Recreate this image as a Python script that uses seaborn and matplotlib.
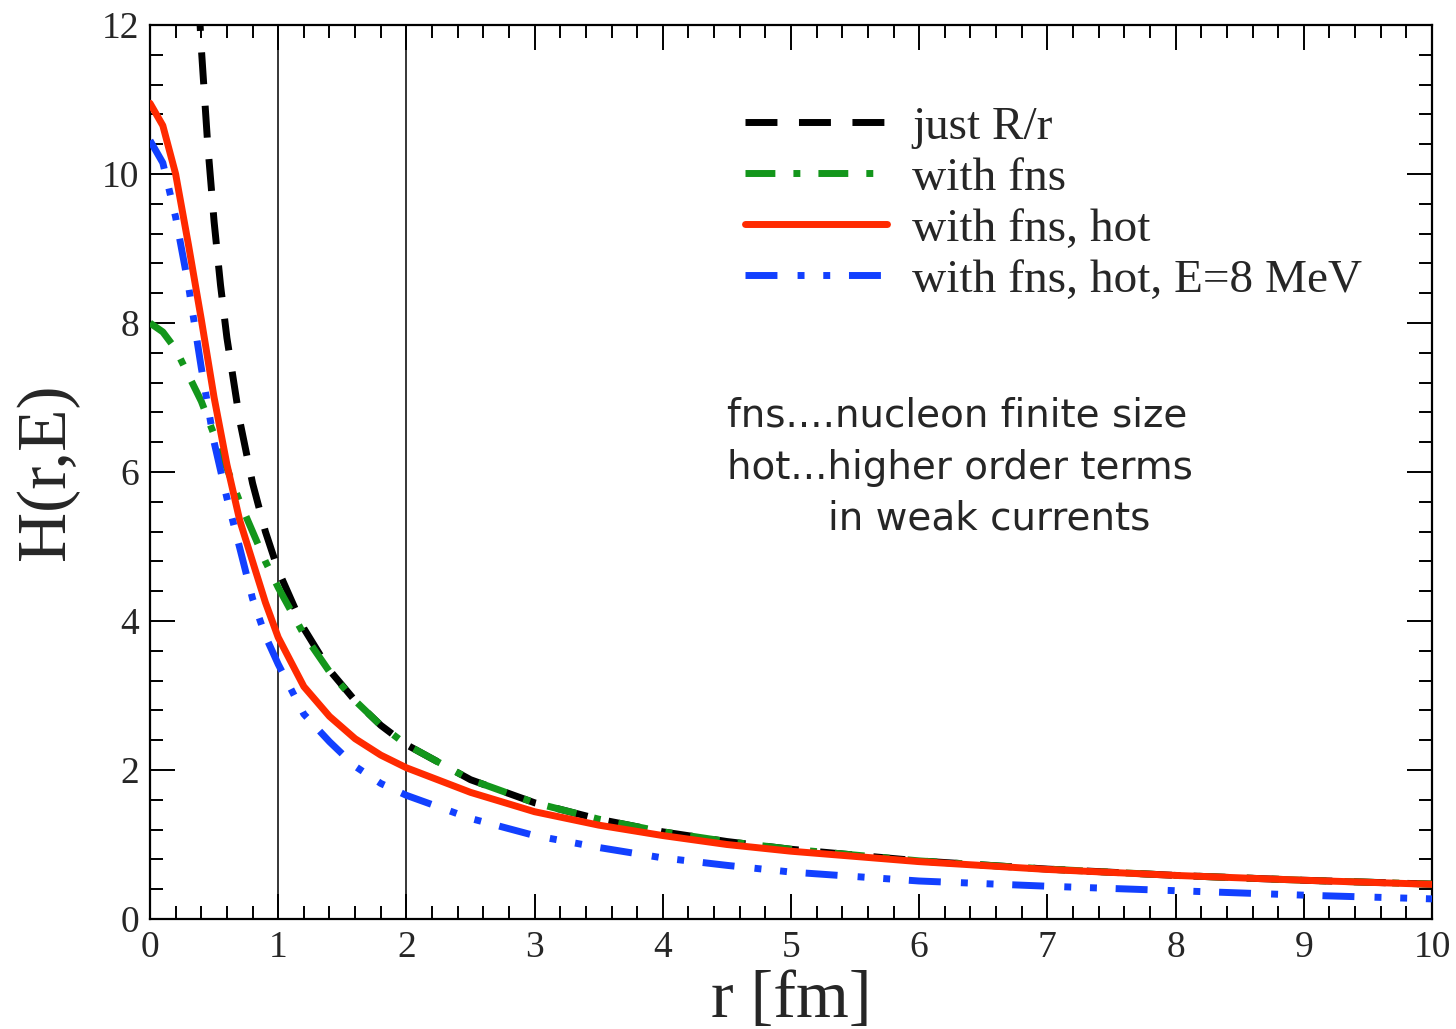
import numpy as np
import pandas as pd
import matplotlib
matplotlib.use("Agg")
import matplotlib.pyplot as plt
import seaborn as sns

# values
r_grid = [0.0, 0.1, 0.2, 0.3, 0.4, 0.5, 0.6, 0.7, 0.8, 0.9, 1.0, 1.2, 1.4, 1.6, 1.8,
          2.0, 2.5, 3.0, 3.5, 4.0, 4.5, 5.0, 6.0, 7.0, 8.0, 9.0, 10.0]

r_bare = [0.36, 0.4, 0.45, 0.5, 0.55, 0.6, 0.7, 0.8, 0.9, 1.0, 1.2, 1.4, 1.6, 1.8,
          2.0, 2.5, 3.0, 3.5, 4.0, 4.5, 5.0, 6.0, 7.0, 8.0, 9.0, 10.0]
h_bare = [13.0, 11.7, 10.4, 9.36, 8.51, 7.80, 6.69, 5.85, 5.20, 4.68, 3.90, 3.34, 2.93, 2.60,
          2.34, 1.87, 1.56, 1.34, 1.17, 1.04, 0.936, 0.78, 0.67, 0.585, 0.52, 0.468]

h_fns = [8.00, 7.88, 7.65, 7.30, 6.95, 6.50, 6.05, 5.60, 5.20, 4.80, 4.45, 3.82, 3.32, 2.93, 2.60,
         2.34, 1.87, 1.56, 1.34, 1.17, 1.04, 0.936, 0.78, 0.67, 0.585, 0.52, 0.468]

h_hot = [10.95, 10.65, 10.00, 9.05, 8.05, 7.00, 6.10, 5.35, 4.80, 4.25, 3.78, 3.12, 2.72, 2.42, 2.20,
         2.03, 1.70, 1.44, 1.26, 1.12, 1.00, 0.91, 0.77, 0.665, 0.585, 0.52, 0.465]

h_e8 = [10.45, 10.15, 9.42, 8.50, 7.40, 6.40, 5.65, 4.98, 4.30, 3.80, 3.42, 2.75, 2.38, 2.05, 1.82,
        1.66, 1.35, 1.12, 0.96, 0.82, 0.72, 0.63, 0.51, 0.44, 0.38, 0.32, 0.27]

labels = ["just R/r", "with fns", "with fns, hot", "with fns, hot, E=8 MeV"]
colors = ["black", "#13961b", "#ff2a00", "#1240ff"]
styles = [(0, (4.6, 3.1)),
          (0, (4.3, 2.6, 1.0, 2.6)),
          "-",
          (0, (4.6, 2.9, 1.0, 2.7, 1.0, 2.7))]

sns.set_theme(style="ticks")
plt.rcParams['font.family'] = ['Liberation Serif', 'DejaVu Serif']

fig = plt.figure(figsize=(14.56, 10.29), dpi=100, facecolor='white')
ax = fig.add_axes([150 / 1456, 1 - 919 / 1029, 1282 / 1456, 894 / 1029])
ax.set_facecolor('white')

ax.axvline(1.0, color='black', lw=1.1, zorder=1)
ax.axvline(2.0, color='black', lw=1.1, zorder=1)

series = [(r_bare, h_bare), (r_grid, h_fns), (r_grid, h_hot), (r_grid, h_e8)]
for (rr, hh), lab, col, ls in zip(series, labels, colors, styles):
    df = pd.DataFrame({'r': rr, 'H': hh})
    sns.lineplot(data=df, x='r', y='H', ax=ax, color=col, lw=5, linestyle=ls,
                 label=lab, errorbar=None, zorder=3)

ax.set_xlim(0, 10)
ax.set_ylim(0, 12)
ax.set_xticks(np.arange(0, 11, 1))
ax.set_yticks(np.arange(0, 13, 2))
ax.set_xticks(np.arange(0, 10.01, 0.2), minor=True)
ax.set_yticks(np.arange(0, 12.01, 0.4), minor=True)
ax.tick_params(which='both', direction='in', top=True, right=True, width=1.4, color='black')
ax.tick_params(which='major', length=18, labelsize=27, pad=8)
ax.tick_params(which='minor', length=9.5)
for sp in ax.spines.values():
    sp.set_linewidth(1.6)
    sp.set_color('black')

ax.set_xlabel('r [fm]', fontsize=49, labelpad=4)
ax.set_ylabel('H(r,E)', fontsize=50, labelpad=16)

leg = ax.legend(loc='upper left', bbox_to_anchor=(0.464, 0.910), frameon=False,
                fontsize=34, handlelength=3.0, handletextpad=0.55, labelspacing=0.17,
                borderpad=0, borderaxespad=0)

note_font = ['DejaVu Sans']
ax.text(0.45, 0.563, 'fns....nucleon finite size', transform=ax.transAxes,
        fontsize=28, family=note_font, va='center', ha='left')
ax.text(0.45, 0.5045, 'hot...higher order terms', transform=ax.transAxes,
        fontsize=28, family=note_font, va='center', ha='left')
ax.text(0.529, 0.4485, 'in weak currents', transform=ax.transAxes,
        fontsize=28, family=note_font, va='center', ha='left')

plt.savefig('out.png', dpi=100, facecolor='white')
